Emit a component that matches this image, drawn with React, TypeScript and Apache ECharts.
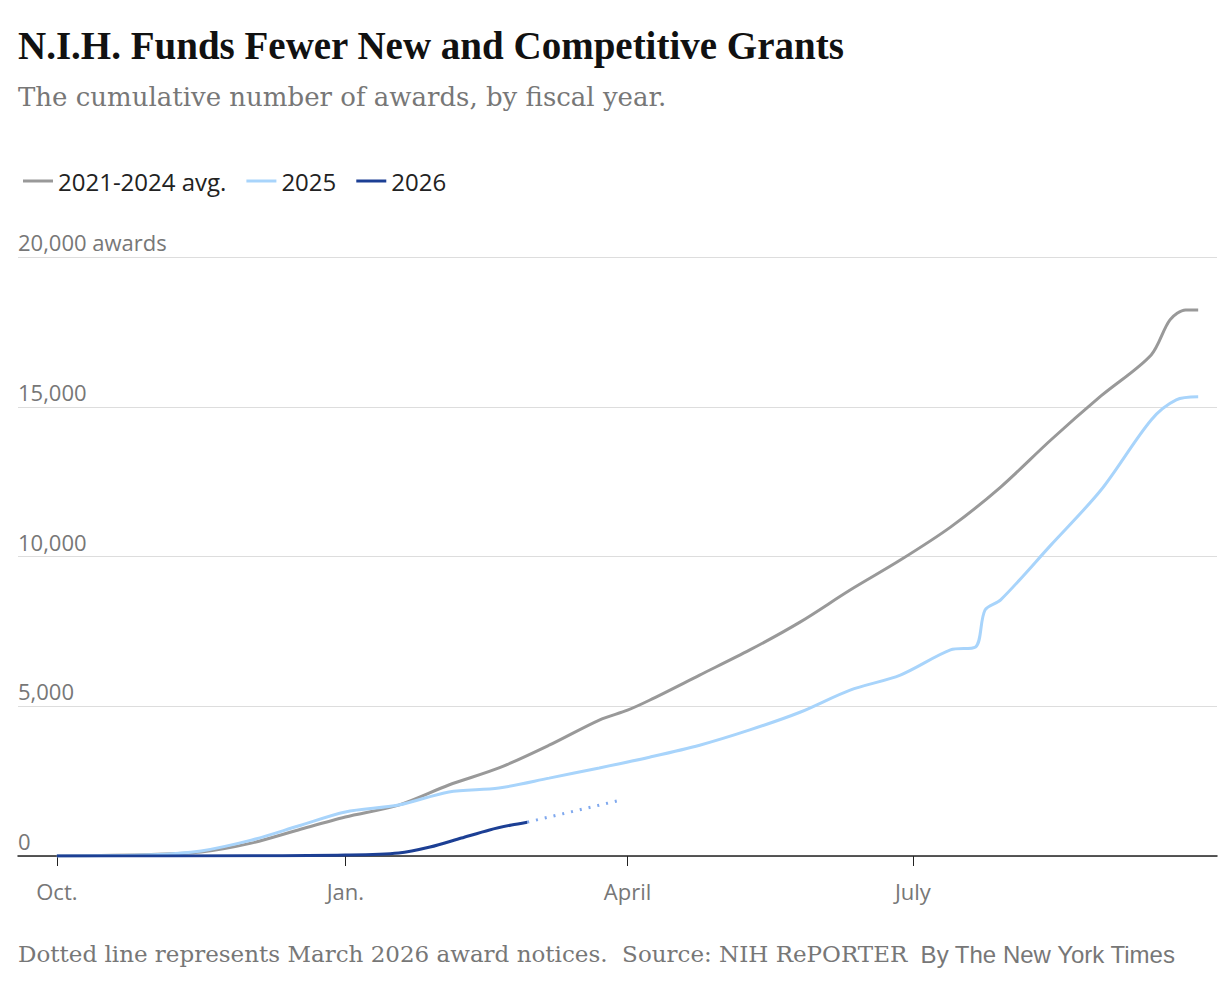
import { useEffect, useRef } from "react";
import * as echarts from "echarts";

// x = days since Oct. 1 (fiscal year start)
const tickDays = [0, 92, 182, 273];
const tickLabels = ["Oct.", "Jan.", "April", "July"];

const avgDays = [0, 30, 46, 62, 77, 92, 109, 125, 141, 157, 173, 182, 189, 205, 221, 237, 253, 269, 285, 301, 317, 333, 349, 355, 360, 364];
const avgValues = [0, 50, 130, 430, 870, 1300, 1700, 2370, 2940, 3700, 4540, 4870, 5200, 6040, 6880, 7810, 8880, 9880, 10980, 12320, 13890, 15360, 16730, 17900, 18230, 18230];

const y2025Days = [0, 30, 46, 62, 77, 92, 109, 125, 141, 157, 173, 189, 205, 221, 237, 253, 269, 285, 293, 296, 301, 317, 333, 349, 357, 364];
const y2025Values = [0, 40, 170, 530, 1000, 1470, 1700, 2140, 2270, 2600, 2940, 3300, 3700, 4210, 4800, 5540, 6040, 6880, 6980, 8210, 8550, 10380, 12220, 14560, 15230, 15330];

const y2026Days = [0, 62, 92, 109, 119, 129, 138, 145, 150];
const y2026Values = [0, 5, 30, 100, 300, 600, 870, 1035, 1130];

const dottedDays = [150, 180];
const dottedValues = [1130, 1870];

const zip = (a: number[], b: number[]) => a.map((d, i) => [d, b[i]]);

const SANS = "'Liberation Sans', Arial, sans-serif";
const WIDE_SANS = "'Open Sans', 'Liberation Sans', sans-serif";
const SERIF = "'Liberation Serif', 'DejaVu Serif', serif";
const WIDE_SERIF = "'DejaVu Serif', serif";

export default function App() {
  const ref = useRef<HTMLDivElement>(null);

  useEffect(() => {
    document.body.style.margin = "0";
    if (!ref.current) return;
    const chart = echarts.init(ref.current, null, { renderer: "svg" });
    chart.setOption({
      animation: false,
      backgroundColor: "#fff",
      grid: { left: 18, right: 12, top: 257, bottom: 129 },
      legend: {
        left: 18,
        top: 164,
        itemWidth: 30,
        itemHeight: 3,
        itemGap: 20,
        icon: "rect",
        data: ["2021-2024 avg.", "2025", "2026"],
        textStyle: { fontFamily: WIDE_SANS, fontSize: 24, color: "#222" },
      },
      xAxis: {
        type: "value",
        min: -12.4,
        max: 370,
        splitLine: { show: false },
        axisLine: { show: true, lineStyle: { color: "#222", width: 1.5 } },
        axisTick: {
          show: true,
          customValues: tickDays,
          length: 10,
          lineStyle: { color: "#222" },
        },
        axisLabel: {
          customValues: tickDays,
          formatter: (v: number) => tickLabels[tickDays.indexOf(v)] ?? "",
          fontFamily: WIDE_SANS,
          fontSize: 22,
          color: "#777",
          margin: 24,
        },
      },
      yAxis: {
        type: "value",
        min: 0,
        max: 20000,
        interval: 5000,
        axisLine: { show: false },
        axisTick: { show: false },
        splitLine: { lineStyle: { color: "#ddd", width: 1 } },
        axisLabel: {
          inside: true,
          verticalAlign: "bottom",
          margin: 0,
          padding: [0, 0, 4, 0],
          fontFamily: WIDE_SANS,
          fontSize: 22,
          color: "#777",
          formatter: (v: number) =>
            v === 20000 ? "20,000 awards" : v.toLocaleString("en-US"),
        },
      },
      series: [
        {
          name: "2021-2024 avg.",
          type: "line",
          data: zip(avgDays, avgValues),
          showSymbol: false,
          smooth: 0.3,
          lineStyle: { color: "#999", width: 3 },
          itemStyle: { color: "#999" },
        },
        {
          name: "2025",
          type: "line",
          data: zip(y2025Days, y2025Values),
          showSymbol: false,
          smooth: 0.3,
          lineStyle: { color: "#a8d4fb", width: 3 },
          itemStyle: { color: "#a8d4fb" },
        },
        {
          name: "2026-dotted",
          type: "line",
          data: zip(dottedDays, dottedValues),
          showSymbol: false,
          lineStyle: { color: "#7fa8ee", width: 3, type: [2, 7] },
        },
        {
          name: "2026",
          type: "line",
          data: zip(y2026Days, y2026Values),
          showSymbol: false,
          smooth: 0.3,
          lineStyle: { color: "#1c3f94", width: 3 },
          itemStyle: { color: "#1c3f94" },
        },
      ],
      graphic: [
        {
          type: "text",
          left: 18,
          top: 26,
          style: {
            text: "N.I.H. Funds Fewer New and Competitive Grants",
            font: `bold 39px ${SERIF}`,
            fill: "#111",
          },
        },
        {
          type: "text",
          left: 18,
          top: 84,
          style: {
            text: "The cumulative number of awards, by fiscal year.",
            font: `26px ${WIDE_SERIF}`,
            fill: "#777",
          },
        },
        {
          type: "text",
          left: 18,
          top: 942,
          style: {
            text: "{s|Dotted line represents March 2026 award notices.  Source: NIH RePORTER}{n|  By The New York Times}",
            rich: {
              s: { font: `23px ${WIDE_SERIF}`, fill: "#777" },
              n: { font: `24px ${SANS}`, fill: "#777" },
            },
          },
        },
      ],
    });
    return () => chart.dispose();
  }, []);

  return <div ref={ref} style={{ width: 1229, height: 985 }} />;
}
